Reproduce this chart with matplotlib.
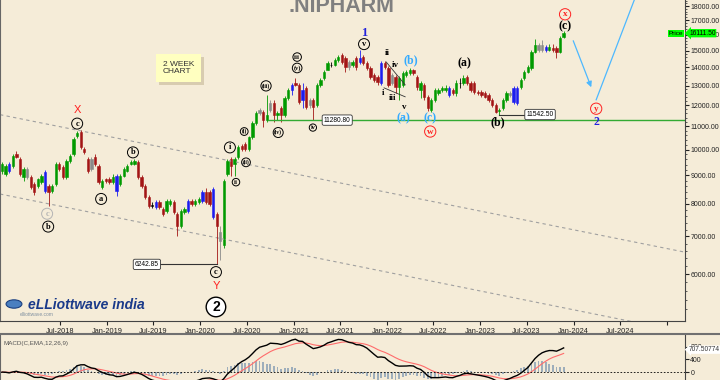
import matplotlib
matplotlib.use("Agg")
import matplotlib.pyplot as plt
import matplotlib.dates as mdates
from matplotlib.ticker import FixedLocator, NullFormatter, FuncFormatter
from matplotlib.lines import Line2D
import numpy as np
import pandas as pd
from datetime import date

plt.rcParams['font.family'] = ['Liberation Sans', 'DejaVu Sans']

# 2 week bars, first one mid Nov 2017
first_bar = date(2017, 11, 16)
bar_days = 14

opens = [9147, 9036, 9411, 9335, 9803, 9605, 8927, 9222, 8927, 8677,
         8607, 8747, 9110, 8607, 8434, 8677, 9411, 9297, 8927, 9527,
         9803, 10548, 10765, 10004, 9605, 9605, 9684, 9335, 8572, 8855,
         8855, 8747, 8963, 8677, 8963, 9147, 9411, 9411, 9488, 8927,
         8607, 8231, 7937, 7905, 8066, 7841, 7777, 8001, 8066, 7684,
         7319, 7746, 7777, 8099, 8001, 8066, 8099, 8400, 8400, 8502,
         7684, 7143, 6748, 9036, 9605, 9411, 9684, 10127, 10210, 10004,
         10505, 11166, 11773, 11677, 11303, 11773, 12113, 11536, 11869, 11536,
         12362, 12771, 13140, 13034, 12262, 12875, 12262, 12262, 12015, 13034,
         13411, 13855, 14141, 14141, 14432, 14729, 14550, 14315, 14141, 14550,
         14315, 14609, 14257, 13969, 13576, 13466, 13140, 14257, 13969, 13576,
         13466, 12928, 13034, 13576, 13687, 13855, 13466, 12771, 13034, 12412,
         11773, 12262, 12616, 12771, 12771, 12875, 12771, 12616, 13140, 13140,
         13466, 13140, 13140, 12667, 12667, 12616, 12514, 12262, 12015, 11725,
         11869, 12262, 12514, 12162, 12113, 12928, 13411, 13743, 13969, 14910,
         15032, 15032, 15032, 15032, 15156, 15156, 14910, 15851]
closes = [9411, 9335, 9147, 9723, 9684, 9036, 9222, 8927, 8572, 8400,
          8855, 8963, 8434, 8400, 8607, 9411, 9222, 8927, 9527, 9723,
          10420, 10721, 10086, 9883, 9147, 9222, 9411, 8747, 8783, 8783,
          8747, 8927, 8434, 8963, 9222, 9335, 9488, 9527, 8927, 8607,
          8231, 7937, 7969, 8066, 7905, 7684, 8099, 8099, 7746, 7319,
          7777, 7841, 8099, 8001, 8099, 8165, 8400, 8066, 8001, 7591,
          7319, 6858, 8783, 9527, 9335, 9605, 10086, 10004, 10004, 10505,
          11166, 11630, 11630, 11303, 11536, 12113, 11536, 11630, 11536, 12362,
          12771, 13034, 13034, 12162, 12771, 11917, 12015, 11917, 13034, 13302,
          13743, 14257, 14141, 14432, 14609, 14315, 14026, 14026, 14315, 14026,
          14550, 14257, 13969, 13466, 13302, 13194, 14257, 14026, 13034, 13140,
          12928, 13411, 13687, 13743, 13855, 13687, 12928, 13140, 12412, 11869,
          12262, 12771, 12771, 12875, 12875, 12514, 12616, 13140, 13140, 13411,
          13140, 12771, 12667, 12616, 12514, 12412, 12262, 12015, 11677, 11773,
          12262, 12616, 12616, 12875, 12875, 13302, 13743, 14026, 14910, 15342,
          15342, 15342, 15218, 15218, 15032, 14910, 15787, 16111.5]
highs = [9488, 9411, 9488, 9803, 9923, 9684, 9297, 9297, 8999, 8747,
         8891, 9036, 9184, 8677, 8677, 9488, 9488, 9373, 9605, 9803,
         10505, 10810, 10853, 10086, 9684, 9684, 9803, 9411, 8855, 8891,
         8927, 9036, 9036, 9036, 9297, 9411, 9566, 9605, 9566, 8999,
         8677, 8298, 8066, 8132, 8132, 7905, 8165, 8165, 8132, 7746,
         7841, 7905, 8165, 8165, 8165, 8231, 8468, 8537, 8468, 8572,
         7746, 7319, 8855, 9605, 9684, 9684, 10168, 10210, 10293, 10591,
         11257, 11725, 11869, 11773, 12514, 12262, 12262, 11725, 11966, 12463,
         12875, 13140, 13411, 13140, 13140, 12981, 12362, 12362, 13140, 13411,
         13855, 14373, 14315, 14550, 14729, 14849, 14669, 14432, 14432, 14669,
         15032, 14729, 14373, 14083, 13687, 13576, 14373, 14373, 14083, 13687,
         13576, 13521, 13799, 13855, 13969, 13912, 13576, 13248, 13140, 12514,
         12362, 12875, 12875, 12981, 13034, 12981, 12875, 13302, 13411, 13576,
         13576, 13248, 13248, 12771, 12771, 12719, 12616, 12362, 12113, 11869,
         12362, 12719, 12719, 12981, 12981, 13411, 13855, 14141, 15032, 15723,
         15468, 15659, 15342, 15405, 15405, 15280, 15916, 16244]
lows = [9036, 8963, 9073, 9259, 9644, 8963, 8783, 8855, 8502, 8298,
        8537, 8677, 8366, 7937, 8366, 8607, 9147, 8855, 8855, 9450,
        9723, 10462, 10004, 9803, 9073, 9147, 9335, 8677, 8502, 8712,
        8677, 8677, 8264, 8607, 8927, 9110, 9373, 9373, 8855, 8537,
        8165, 7873, 7873, 7841, 7841, 7622, 7715, 7937, 7684, 7028,
        7260, 7684, 7715, 7937, 7937, 8001, 8033, 8001, 7937, 7530,
        6242.85, 6350, 6666, 8963, 8963, 8963, 9605, 9923, 9923, 9923,
        10420, 11076, 11536, 10986, 11211, 11677, 11211, 11303, 11211, 11442,
        12262, 12514, 12981, 12064, 11869, 11821, 11869, 11280.8, 11917, 12928,
        13302, 13855, 14026, 14083, 14315, 14199, 13743, 13855, 14026, 13855,
        14199, 14141, 13855, 13356, 13194, 13034, 13034, 13912, 12928, 13034,
        12616, 12262, 12928, 13466, 13576, 13576, 12771, 12362, 12262, 11725,
        11677, 12162, 12514, 12667, 12667, 12412, 12514, 12463, 12875, 13034,
        13034, 12667, 12565, 12514, 12412, 12362, 12162, 11917, 11630, 11542.5,
        11773, 12162, 12412, 12064, 12015, 12823, 13302, 13687, 13855, 14849,
        14910, 14910, 14910, 14971, 14910, 14550, 14849, 15787]
# G up, R down, B blue, K grey, D doji
kinds = ("GGBGRRGKRR" "GGBRGGRRGG" "GGRRRKRRGR" "RGBGGGGGRR" "RRDBRRGGRR"
         "GGBRGGBRRB" "RKGGRGGRRG" "GGKRGKRGRG" "GBRRBRKRGG" "GGDGGRRKGR"
         "BRRRRRBRRK" "RGGGGRRGRR" "GGGGGBRGDG" "RRRRRRRRRG" "GGKBBGGGGG"
         "KKBGRRGG")

tick_dates = [date(2018, 7, 1), date(2019, 1, 1), date(2019, 7, 1), date(2020, 1, 1),
              date(2020, 7, 1), date(2021, 1, 1), date(2021, 7, 1), date(2022, 1, 1),
              date(2022, 7, 1), date(2023, 1, 1), date(2023, 7, 1), date(2024, 1, 1),
              date(2024, 7, 1), date(2025, 1, 1)]
price_ticks = [6000, 7000, 8000, 9000, 10000, 11000, 12000, 13000, 14000,
               15000, 16000, 17000, 18000]
macd_ticks = [0, 400, 800]

# wave labels: text, bar position, price, colour, circled, size
waves = [
    ("X", 21.0, 11773, "#ff2020", False, 8),
    ("c", 21.0, 11121, "black", True, 6),
    ("c", 12.6, 7684, "#b4b4b4", True, 6),
    ("b", 12.9, 7290, "black", True, 6),
    ("a", 27.7, 8165, "black", True, 6),
    ("b", 36.6, 9883, "black", True, 6),
    ("c", 59.8, 6049, "black", True, 6),
    ("Y", 59.8, 5713, "#ff2020", False, 8),
    ("i", 63.7, 10086, "black", True, 6),
    ("ii", 65.4, 8747, "black", True, 5),
    ("(i)", 67.7, 10765, "black", True, 4),
    ("(ii)", 68.2, 9488, "black", True, 4),
    ("(iii)", 73.8, 12981, "black", True, 4),
    ("(iv)", 77.2, 10721, "black", True, 4),
    ("iii", 82.5, 14609, "black", True, 5),
    ("(v)", 82.5, 13969, "black", True, 4.5),
    ("iv", 86.9, 10941, "black", True, 4.5),
    ("1", 101.2, 16112, "#2222dd", False, 9),
    ("v", 101.2, 15405, "black", True, 6),
    ("ii", 107.6, 14849, "black", False, 6.5),
    ("iv", 109.9, 14141, "black", False, 6.5),
    ("i", 106.5, 12616, "black", False, 6.5),
    ("iii", 109.3, 12362, "black", False, 6.5),
    ("v", 112.4, 11917, "black", False, 6.5),
    ("(b)", 114.3, 14432, "#33aaff", False, 8.5),
    ("(a)", 112.1, 11349, "#33aaff", False, 8.5),
    ("(c)", 119.7, 11349, "#33aaff", False, 8.5),
    ("w", 119.7, 10765, "#ff2020", True, 6.5),
    ("(a)", 129.2, 14257, "black", False, 8.5),
    ("(b)", 138.7, 11166, "black", False, 8.5),
    ("x", 157.4, 17410, "#ff2020", True, 6.5),
    ("(c)", 157.4, 16580, "black", False, 8.5),
    ("y", 166.1, 11821, "#ff2020", True, 6.5),
    ("2", 166.1, 11211, "#2222dd", False, 8.5),
]

colours = {"G": "#009a00", "R": "#a31515", "B": "#1c1cf0", "K": "#8a8a8a", "D": "#000000"}
bg = "#f5ecd8"

t0 = mdates.date2num(first_bar)


def bx(i):
    return t0 + bar_days * i


x = np.array([bx(i) for i in range(len(closes))])
o = np.array(opens, dtype=float)
c = np.array(closes, dtype=float)
cols = [colours[k] for k in kinds]

fig = plt.figure(figsize=(7.2, 3.8), dpi=100, facecolor=bg)
ax = fig.add_axes([0, 59 / 380, 685 / 720, 321 / 380])
ax.set_facecolor(bg)

ax.set_yscale("log")
ax.set_ylim(4950, 18460)
ax.set_xlim(mdates.date2num(date(2017, 11, 8)), mdates.date2num(date(2025, 3, 12)))

# channel lines
chan_x = [mdates.date2num(date(2017, 11, 8)), mdates.date2num(date(2025, 3, 12))]
ax.plot(chan_x, [11536, 6564], color="#a0a0a0", lw=0.8, dashes=(3, 3))
ax.plot(chan_x, [8332, 4726], color="#a0a0a0", lw=0.8, dashes=(3, 3))

# candles
ax.vlines(x, lows, highs, colors=cols, lw=0.6)
ax.bar(x, np.abs(c - o), bottom=np.minimum(o, c), width=9, color=cols,
       edgecolor=cols, linewidth=0.4)

# support line and value tags
ax.plot([bx(74.4), chan_x[1]], [11280.8, 11280.8], color="#33aa33", lw=1.0)
ax.plot([bx(44.2), bx(60)], [6242.85, 6242.85], color="#333333", lw=0.8)
ax.plot([bx(139), bx(146.5)], [11542.5, 11542.5], color="#333333", lw=0.8)
tag = dict(boxstyle="round,pad=0.25", fc="white", ec="#333333", lw=0.6)
ax.text(bx(93.7), 11280.8, "11280.80", fontsize=4.8, ha="center", va="center", bbox=tag)
ax.text(bx(40.5), 6242.85, "6242.85", fontsize=4.8, ha="center", va="center", bbox=tag)
ax.text(bx(150.4), 11542.5, "11542.50", fontsize=4.8, ha="center", va="center", bbox=tag)

# wedge lines
ax.plot([bx(107.4), bx(112.7)], [14315, 13034], color="#333333", lw=0.6)
ax.plot([bx(106.8), bx(112.7)], [12875, 12412], color="#333333", lw=0.6)

# wave labels
for txt, pos, price, col, circ, size in waves:
    kw = dict(fontsize=size, color=col, ha="center", va="center", fontweight="bold",
              family=["Liberation Serif", "DejaVu Serif"])
    if txt in ("X", "Y"):
        kw["fontweight"] = "normal"
        kw["family"] = ["Liberation Sans", "DejaVu Sans"]
    if circ:
        kw["bbox"] = dict(boxstyle="circle,pad=0.18", fc="none", ec=col, lw=0.7)
    ax.text(bx(pos), price, txt, **kw)

ax.text(bx(59.8), 5243, "2", fontsize=10, fontweight="bold", ha="center", va="center",
        bbox=dict(boxstyle="circle,pad=0.2", fc="white", ec="black", lw=1.0))

# projected path
blue = "#4db8ff"
ax.annotate("", xy=(bx(165.0), 12771), xytext=(bx(159.4), 15787),
            arrowprops=dict(arrowstyle="-|>", color=blue, lw=0.9, mutation_scale=8))
ax.plot([bx(166.1), bx(177.5)], [12262, 19000], color=blue, lw=0.9)

# axes styling
ax.yaxis.tick_right()
ax.yaxis.set_major_locator(FixedLocator(price_ticks))
ax.yaxis.set_major_formatter(FuncFormatter(lambda v, p: "%.2f" % v))
ax.yaxis.set_minor_locator(FixedLocator([v for v in range(5000, 18500, 200) if v % 1000]))
ax.yaxis.set_minor_formatter(NullFormatter())
ax.tick_params(axis="y", which="major", labelsize=5.0, length=3, pad=0.8, colors="#222222")
ax.tick_params(axis="y", which="minor", length=1.5, color="#444444")

ax.xaxis.set_major_locator(FixedLocator([mdates.date2num(d) for d in tick_dates]))
ax.set_xticklabels([d.strftime("%b-%Y") if d.year < 2025 else "" for d in tick_dates])
ax.tick_params(axis="x", labelsize=5.3, length=3, pad=2, colors="#222222")
ax.spines["top"].set_visible(False)
ax.spines["left"].set_color("#666666")
ax.spines["right"].set_color("#444444")
ax.spines["bottom"].set_color("#444444")

# price tag
ax.annotate("Price", xy=(0.997, 16111.5), xycoords=("axes fraction", "data"),
            fontsize=4.6, ha="right", va="center",
            bbox=dict(boxstyle="square,pad=0.15", fc="#00ff00", ec="none"))
ax.annotate("16111.50", xy=(1.006, 16111.5), xycoords=("axes fraction", "data"),
            fontsize=4.8, ha="left", va="center", annotation_clip=False,
            bbox=dict(boxstyle="larrow,pad=0.1", fc="#00ff00", ec="none"))

# title, chart box and logo
fig.text(342 / 720, 1 - 7 / 380, ".NIPHARM", fontsize=15.5, fontweight="bold",
         color="#808080", ha="center", va="center")
fig.text(166 / 720, 1 - 71 / 380, "2 WEEK\nCHART", fontsize=6, color="none", va="center",
         linespacing=1.15, bbox=dict(boxstyle="square,pad=0.8", fc="#d8ccb0", ec="none"))
fig.text(163 / 720, 1 - 68 / 380, "2 WEEK\nCHART", fontsize=6, color="#333333", va="center",
         linespacing=1.15, bbox=dict(boxstyle="square,pad=0.8", fc="#ffffc0", ec="none"))
fig.patches.append(plt.Circle((14 / 720, 1 - 304 / 380), 0.011, transform=fig.transFigure,
                              fc="#4a7fc0", ec="#1a3f80", lw=0.8))
fig.text(28 / 720, 1 - 305 / 380, "eLLiottwave india", fontsize=10, fontweight="bold",
         style="italic", color="#1a3a8a", va="center")
fig.text(20 / 720, 1 - 314 / 380, "elliottwave.com", fontsize=3.5, color="#8090a0", va="center")

# MACD panel
s = pd.Series(c)
macd = s.ewm(span=12, adjust=False).mean() - s.ewm(span=26, adjust=False).mean()
signal = macd.ewm(span=9, adjust=False).mean()
hist = macd - signal

ax2 = fig.add_axes([0, 0, 685 / 720, 45 / 380], sharex=ax)
ax2.set_facecolor(bg)
ax2.bar(x, hist, width=7, color="#9eaebb", edgecolor="none")
ax2.plot(x, signal, color="#ff6b6b", lw=0.8)
ax2.plot(x, macd, color="black", lw=1.0)
ax2.axhline(0, color="black", lw=0.6, dashes=(2, 2))
ax2.set_ylim(-250, 1170)
ax2.yaxis.tick_right()
ax2.yaxis.set_major_locator(FixedLocator(macd_ticks))
ax2.tick_params(axis="y", labelsize=5.0, length=3, pad=0.8, colors="#222222")
ax2.tick_params(axis="x", bottom=False, labelbottom=False)
ax2.spines["top"].set_visible(False)
ax2.spines["bottom"].set_visible(False)
ax2.spines["left"].set_color("#666666")
ax2.spines["right"].set_color("#444444")
ax2.text(0.005, 0.8, "MACD(C,EMA,12,26,9)", transform=ax2.transAxes, fontsize=4.5,
         color="#555555", va="center")
ax2.annotate("707.50774", xy=(1.006, 707.5), xycoords=("axes fraction", "data"),
             fontsize=4.8, ha="left", va="center", annotation_clip=False, color="#333333",
             bbox=dict(boxstyle="larrow,pad=0.1", fc="white", ec="none"))

fig.add_artist(Line2D([0, 1], [1 - 334 / 380] * 2, transform=fig.transFigure,
                      color="#707070", lw=1.5))

fig.savefig("out.png", dpi=100, facecolor=bg)
